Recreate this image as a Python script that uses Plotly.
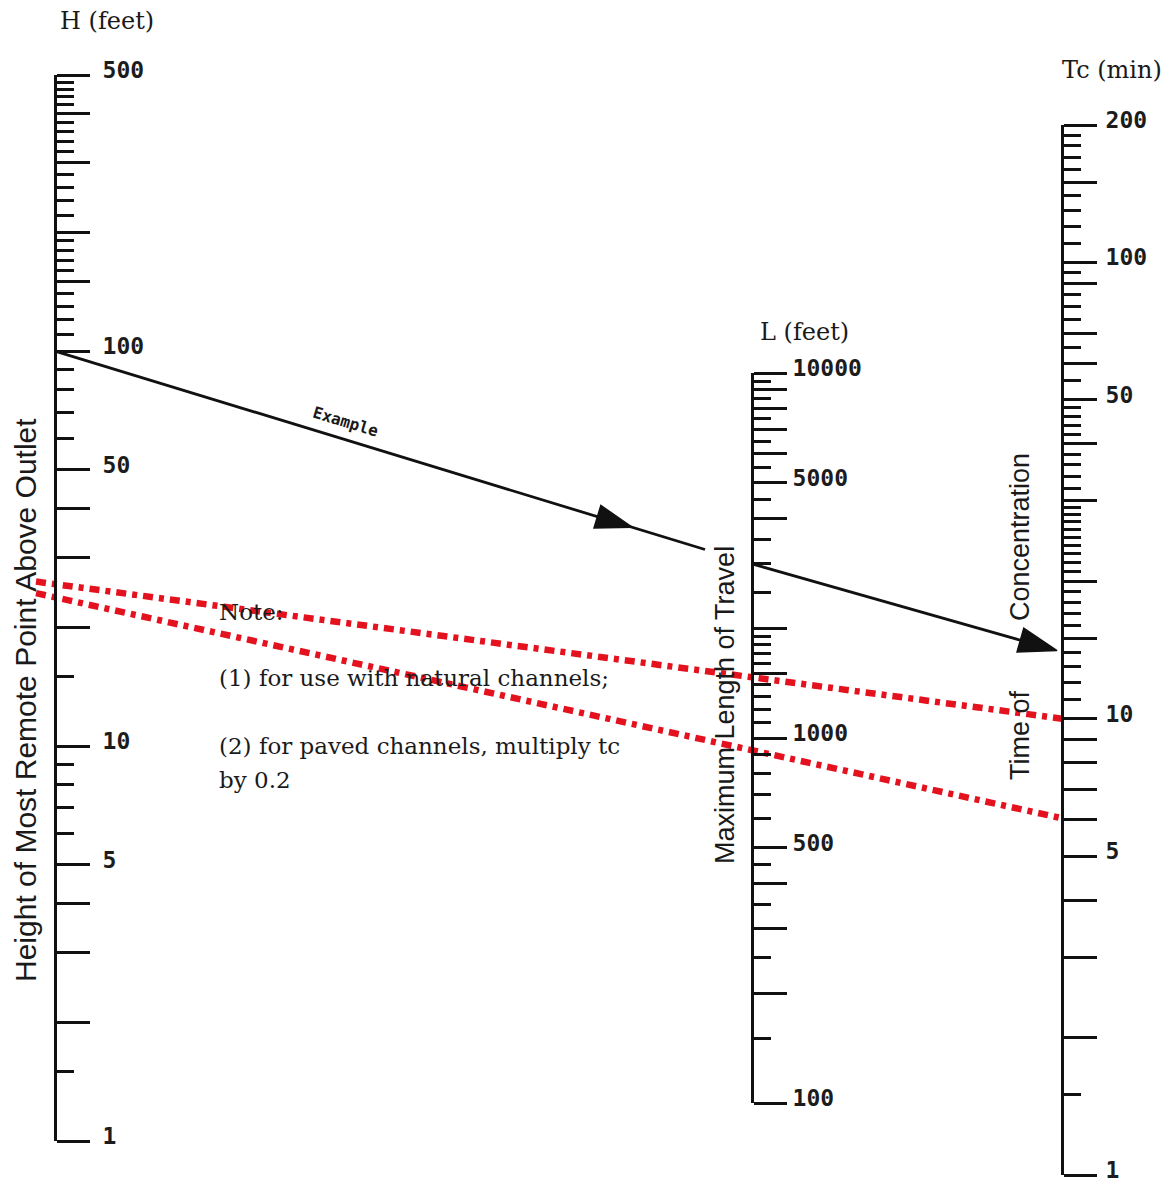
import math
import plotly.graph_objects as go

W, HGT = 1175, 1183
OFF = 8  # page body margin of the browser

# ---------------- data ----------------
H_LABELED = [1, 5, 10, 50, 100, 500]
H_MAJOR = [1, 2, 3, 4, 5, 10, 20, 30, 40, 50, 100, 150, 200, 300, 400, 500]
H_MINOR = [1.5, 6, 7, 8, 9, 15, 60, 70, 80, 90, 110, 120, 130, 140, 160, 170,
           180, 190, 220, 240, 260, 280, 320, 340, 360, 380, 420, 440, 460, 480]

L_LABELED = [100, 500, 1000, 5000, 10000]
L_MAJOR = [100, 200, 300, 400, 500, 1000, 1500, 2000, 4000, 5000, 6000, 7000,
           8000, 9000, 10000]
L_MINOR = [150, 250, 350, 450, 600, 700, 800, 900, 1100, 1200, 1300, 1400, 1600,
           1700, 1800, 1900, 2500, 3000, 3500, 4500, 5500, 6500, 7500, 8500, 9500]

TC_LABELED = [1, 5, 10, 50, 100, 200]
TC_MAJOR = [1, 2, 3, 4, 5, 6, 7, 8, 9, 10, 15, 20, 30, 40, 50, 60, 70, 90, 100,
            150, 200]
TC_MINOR = [1.5, 11, 12, 13, 14, 16, 17, 18, 19, 21, 22, 23, 24, 25, 26, 27, 28,
            29, 32, 34, 36, 38, 42, 44, 46, 48, 55, 65, 75, 80, 85, 95, 110, 120,
            130, 140, 160, 170, 180, 190]

EXAMPLE = {"H": 100, "L": 3000, "Tc": 14}
RED_LINES = [{"H": 25.7, "Tc": 10.0}, {"H": 23.8, "Tc": 6.05}]

# ---------------- scale geometry (pixels of the page) ----------------
SCALES = {
    "H": dict(axis="yaxis2", ref="y2", x=55, top=75, bottom=1141, lo=1, hi=500,
              major=H_MAJOR, minor=H_MINOR, labeled=H_LABELED, standoff=8),
    "L": dict(axis="yaxis3", ref="y3", x=752, top=373, bottom=1103, lo=100, hi=10000,
              major=L_MAJOR, minor=L_MINOR, labeled=L_LABELED, standoff=1),
    "Tc": dict(axis="yaxis4", ref="y4", x=1062, top=125, bottom=1175, lo=1, hi=200,
               major=TC_MAJOR, minor=TC_MINOR, labeled=TC_LABELED, standoff=4),
}


def fx(px):
    return (px - OFF) / W


def fy(py):
    return 1 - (py - OFF) / HGT


for s in SCALES.values():
    s["px"] = fx(s["x"])
    s["domain"] = [fy(s["bottom"]), fy(s["top"])]
    s["range"] = [math.log10(s["lo"]), math.log10(s["hi"])]


def to_paper(name, v):
    s = SCALES[name]
    d0, d1 = s["domain"]
    r0, r1 = s["range"]
    return d0 + (math.log10(v) - r0) / (r1 - r0) * (d1 - d0)


def along(p, q, xpx):
    xq = fx(xpx)
    t = (xq - p[0]) / (q[0] - p[0])
    return xq, p[1] + t * (q[1] - p[1])


fig = go.Figure()

INK = "#111111"
RED = "#e3121e"

# invisible carriers so that each scale axis is rendered
for name, s in SCALES.items():
    fig.add_trace(go.Scatter(x=[s["px"]] * len(s["major"]), y=s["major"],
                             xaxis="x", yaxis=s["ref"], mode="markers",
                             marker=dict(opacity=0, size=1), hoverinfo="skip",
                             showlegend=False))

# red dash-dot lines
for rl in RED_LINES:
    pH = (SCALES["H"]["px"], to_paper("H", rl["H"]))
    pT = (SCALES["Tc"]["px"], to_paper("Tc", rl["Tc"]))
    p0 = along(pH, pT, 36)
    fig.add_trace(go.Scatter(x=[p0[0], pH[0], pT[0]], y=[p0[1], pH[1], pT[1]],
                             mode="lines", xaxis="x", yaxis="y",
                             line=dict(color=RED, width=6.5, dash="10px,6px,5px,6px"),
                             hoverinfo="skip", showlegend=False))

# example line
pH = (SCALES["H"]["px"], to_paper("H", EXAMPLE["H"]))
pL = (SCALES["L"]["px"], to_paper("L", EXAMPLE["L"]))
pT = (SCALES["Tc"]["px"], to_paper("Tc", EXAMPLE["Tc"]))
pa = along(pH, pL, 632)
pg = along(pH, pL, 705)
pe = along(pL, pT, 1057)
fig.add_trace(go.Scatter(x=[pH[0], pa[0], pg[0]], y=[pH[1], pa[1], pg[1]],
                         mode="lines+markers", xaxis="x", yaxis="y",
                         line=dict(color=INK, width=2.8),
                         marker=dict(symbol=["circle", "arrow", "circle"],
                                     size=[0, 38, 0], color=INK, opacity=1,
                                     angleref="previous",
                                     line=dict(width=1.5, color=INK)),
                         hoverinfo="skip", showlegend=False))
fig.add_trace(go.Scatter(x=[pL[0], pe[0]], y=[pL[1], pe[1]],
                         mode="lines+markers", xaxis="x", yaxis="y",
                         line=dict(color=INK, width=2.8),
                         marker=dict(symbol=["circle", "arrow"], size=[0, 40],
                                     color=INK, opacity=1, angleref="previous",
                                     line=dict(width=1.5, color=INK)),
                         hoverinfo="skip", showlegend=False))

layout = dict(
    width=W, height=HGT,
    margin=dict(l=0, r=0, t=0, b=0),
    paper_bgcolor="white", plot_bgcolor="rgba(0,0,0,0)",
    showlegend=False,
    xaxis=dict(domain=[0, 1], range=[0, 1], visible=False, fixedrange=True),
    yaxis=dict(domain=[0, 1], range=[0, 1], visible=False, fixedrange=True),
)
for name, s in SCALES.items():
    layout[s["axis"]] = dict(
        type="log", domain=s["domain"], range=s["range"], anchor="free",
        position=s["px"], side="right", showgrid=False, zeroline=False,
        showline=True, linecolor=INK, linewidth=3,
        ticks="outside", ticklen=33, tickwidth=3.2, tickcolor=INK,
        tickmode="array", tickvals=s["major"],
        ticktext=[str(v) if v in s["labeled"] else "" for v in s["major"]],
        tickfont=dict(family="DejaVu Sans Mono", size=23, color="#1c1c1c",
                      weight="bold"),
        ticklabelstandoff=s["standoff"], ticklabelshift=-5,
        minor=dict(tickmode="array", tickvals=s["minor"], ticks="outside",
                   ticklen=17, tickwidth=3, tickcolor=INK, showgrid=False),
        automargin=False, fixedrange=True,
    )
fig.update_layout(**layout)

SERIF = "DejaVu Serif"
SANS = "Liberation Sans"


def txt(x, y, text, size, family=SERIF, angle=0, xanchor="center",
        color="#1a1a1a", weight="normal"):
    fig.add_annotation(x=fx(x), y=fy(y), xref="paper", yref="paper",
                       text=text, showarrow=False, textangle=angle,
                       xanchor=xanchor, yanchor="middle", borderpad=0,
                       font=dict(family=family, size=size, color=color,
                                 weight=weight))


txt(107, 21, "H (feet)", 24)
txt(804, 332, "L (feet)", 24)
txt(1112, 70, "Tc (min)", 24)

txt(25, 700, "Height of Most Remote Point Above Outlet", 30, SANS, -90)
txt(725, 705, "Maximum Length of Travel", 27, SANS, -90)
txt(1020, 537, "Concentration", 27, SANS, -90)
txt(1020, 735, "Time of", 27, SANS, -90)

txt(345, 421, "Example", 16, "DejaVu Sans Mono", 17, weight="bold")

txt(218, 612, "Note:", 23, xanchor="left")
txt(218, 678, "(1) for use with natural channels;", 23, xanchor="left")
txt(218, 746, "(2) for paved channels, multiply tc", 23, xanchor="left")
txt(218, 780, "by 0.2", 23, xanchor="left")

fig.write_html("out.html")
